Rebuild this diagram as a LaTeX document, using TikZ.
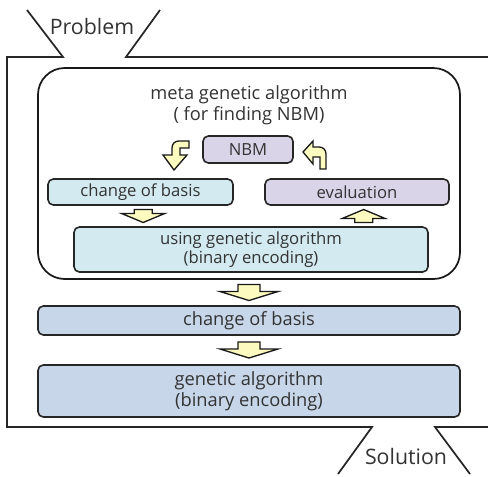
\documentclass[tikz,border=0pt]{standalone}
\usepackage{fontspec}
\setmainfont{Open Sans}
\usepackage{xcolor}
\usepackage{tikz}

\definecolor{cyanfill}{RGB}{210,234,240}
\definecolor{purplefill}{RGB}{218,212,232}
\definecolor{bluefill}{RGB}{200,214,234}
\definecolor{arrowfill}{RGB}{252,250,190}

\tikzset{
    box/.style={draw=black!85, line width=1.2pt, rounded corners=4pt, outer sep=0pt,
        align=center, text=black!80, font=\fontsize{12.5}{14}\selectfont},
    bigbox/.style={box, font=\fontsize{13.7}{16}\selectfont},
    yarrow/.style={draw=black!90, line width=1pt, fill=arrowfill, line join=miter},
    smallblk/.pic={\draw[yarrow] (-9,-6.5) -- (9,-6.5) -- (9,-2.5) -- (21.5,-2.5) -- (0,6.5) -- (-21.5,-2.5) -- (-9,-2.5) -- cycle;},
    bigblk/.pic={\draw[yarrow] (-11,-8) -- (11,-8) -- (11,-1) -- (29,-1) -- (0,8) -- (-29,-1) -- (-11,-1) -- cycle;}
}

\begin{document}
\begin{tikzpicture}[x=0.75pt, y=-0.75pt]
    \useasboundingbox (0,0) rectangle (488,476);

    % outer frame with the two openings
    \draw[line width=1.3pt, black!85] (27,10) -- (63,57) -- (7,57) -- (7,427) -- (372,427) -- (338,474);
    \draw[line width=1.3pt, black!85] (160,10) -- (126,57) -- (490,57);
    \draw[line width=1.3pt, black!85] (470,474) -- (435,427) -- (490,427);
    \node[font=\fontsize{16}{18}\selectfont, text=black!80] (prob) at (92,26) {Problem};
    \node[font=\fontsize{16}{18}\selectfont, text=black!80] (sol) at (406,456) {Solution};

    % meta genetic algorithm
    \node[draw=black!90, line width=1.3pt, rounded corners=20pt, minimum width=316.5pt, minimum height=158.25pt, outer sep=0pt] (meta) at (249,173.5) {};
    \node[align=center, text=black!80, font=\fontsize{13.7}{16}\selectfont] (metatxt) at (249,105) {meta genetic algorithm\\( for finding NBM)};

    \node[box, fill=purplefill, minimum width=67.5pt, minimum height=20.25pt] (nbm) at (248,149.5) {NBM};
    \node[box, fill=cyanfill, minimum width=138.75pt, minimum height=19.5pt] (cob) at (140.5,192) {change of basis};
    \node[box, fill=purplefill, minimum width=138pt, minimum height=19.5pt] (eval) at (357,192) {evaluation};
    \node[box, fill=cyanfill, minimum width=265.5pt, minimum height=33.75pt] (using) at (251,249.5) {using genetic algorithm\\(binary encoding)};

    % bent arrows round NBM
    \draw[yarrow] (189,141) [rounded corners=5pt] -- (172,141) [sharp corners] -- (172,155) -- (163,155) -- (174,170) -- (187,155) -- (180,155) -- (180,148) -- (189,148) -- cycle;
    \draw[yarrow] (303,152) -- (313,141) -- (313,147) [rounded corners=5pt] -- (326,147) [sharp corners] -- (326,169) -- (320,169) -- (320,157) -- (313,157) -- (313,164) -- cycle;

    \path (cob.south) -- (cob.south |- using.north) pic[pos=0.5, xshift=2pt] {smallblk};
    \path (eval.south) -- (eval.south |- using.north) pic[pos=0.5, xshift=5pt, rotate=180] {smallblk};

    % main flow
    \node[bigbox, fill=bluefill, minimum width=316.5pt, minimum height=21.75pt] (cobbig) at (249,320.5) {change of basis};
    \node[bigbox, fill=bluefill, minimum width=316.5pt, minimum height=39pt] (gabig) at (249,391) {genetic algorithm\\(binary encoding)};

    \path (meta.south) -- (cobbig.north) pic[pos=0.5] {bigblk};
    \path (cobbig.south) -- (gabig.north) pic[pos=0.5] {bigblk};
\end{tikzpicture}
\end{document}
